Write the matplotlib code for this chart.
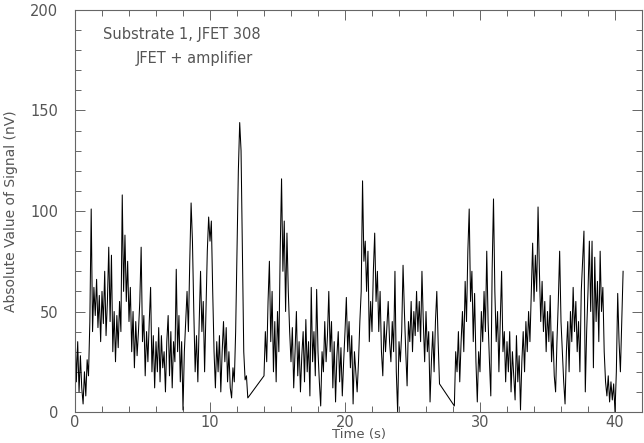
import numpy as np
import matplotlib
matplotlib.use("Agg")
import matplotlib.pyplot as plt

dt = 0.1
seg1_start = 0.0
seg1 = [42, 15, 35, 10, 28, 12, 4, 20, 8, 26,
        18, 45, 101, 40, 62, 48, 66, 42, 58, 35,
        60, 44, 70, 38, 55, 82, 45, 78, 30, 50,
        25, 48, 32, 55, 40, 108, 60, 88, 55, 75,
        45, 62, 30, 50, 22, 45, 28, 40, 55, 82,
        35, 48, 18, 40, 25, 45, 62, 20, 38, 12,
        35, 20, 42, 15, 38, 22, 30, 10, 35, 48,
        18, 40, 12, 35, 25, 71, 30, 48, 15, 35,
        1, 30, 45, 60, 40, 75, 104, 85, 50, 20,
        38, 15, 45, 70, 40, 55, 20, 50, 80, 97,
        85, 95, 60, 30, 12, 35, 20, 38, 10, 30,
        45, 25, 42, 15, 30, 12, 7, 22, 15, 40,
        80, 120, 144, 130, 81, 30, 16, 18, 7]
seg2_start = 14.0
seg2 = [18, 40, 25, 55, 75, 35, 60, 20, 45, 15,
        50, 30, 80, 116, 70, 95, 50, 89, 60, 40,
        25, 42, 12, 30, 50, 18, 35, 10, 28, 40,
        15, 46, 20, 35, 8, 62, 25, 40, 18, 61,
        30, 15, 3, 30, 20, 45, 25, 38, 60, 30,
        45, 12, 35, 5, 28, 40, 15, 32, 8, 25,
        40, 57, 30, 45, 22, 38, 4, 30, 20, 10,
        25, 45, 60, 115, 75, 85, 60, 80, 35, 55,
        40, 70, 89, 55, 70, 40, 60, 30, 18, 45,
        30, 42, 55, 35, 25, 45, 30, 70, 20, 0,
        35, 25, 40, 73, 50, 30, 13, 45, 35, 55,
        30, 50, 38, 60, 40, 55, 35, 70, 45, 25,
        50, 30, 40, 5, 25, 40, 20, 45, 60, 35,
        14]
seg3_start = 28.1
seg3 = [3, 30, 20, 40, 15, 35, 50, 30, 65,
        45, 80, 101, 55, 70, 35, 59, 25, 5, 30,
        20, 50, 35, 60, 40, 80, 45, 25, 8, 71,
        106, 60, 35, 50, 20, 45, 70, 30, 40, 15,
        35, 20, 40, 10, 30, 18, 6, 38, 15, 28,
        1, 25, 40, 20, 45, 30, 50, 35, 60, 84,
        55, 78, 60, 102, 70, 45, 65, 40, 55, 30,
        50, 35, 58, 25, 40, 18, 10, 35, 55, 80,
        45, 30, 15, 4, 30, 45, 20, 50, 35, 62,
        40, 55, 30, 45, 20, 60, 75, 90, 10, 40,
        60, 85, 50, 85, 22, 77, 45, 65, 35, 80,
        50, 62, 30, 15, 8, 18, 5, 15, 6, 14,
        0, 20, 59, 35, 20, 45, 70]

starts = [seg1_start, seg2_start, seg3_start]
segs = [seg1, seg2, seg3]
t = np.concatenate([s0 + dt * np.arange(len(v)) for s0, v in zip(starts, segs)])
y = np.concatenate([np.array(v, float) for v in segs])

title1 = "Substrate 1, JFET 308"
title2 = "JFET + amplifier"

fig = plt.figure(figsize=(6.44, 4.43), dpi=100)
ax = fig.add_axes([75/644, 1 - 412/443, (642-75)/644, (412-10)/443])
ax.plot(t, y, color='black', lw=0.75)
ax.set_xlim(0, 42)
ax.set_ylim(0, 200)
ax.set_xticks([0, 10, 20, 30, 40])
ax.set_yticks([0, 50, 100, 150, 200])
ax.set_xticks(np.arange(0, 42.1, 2), minor=True)
ax.set_yticks(np.arange(0, 201, 10), minor=True)
gray = '#666666'
tc = '#555555'
ax.tick_params(which='both', direction='in', top=True, right=True, colors=gray,
               labelsize=10.5, labelcolor=tc, width=0.7)
ax.tick_params(which='major', length=7)
ax.tick_params(which='minor', length=4)
ax.tick_params(axis='x', which='major', pad=2)
ax.tick_params(axis='y', which='major', pad=12)
for s in ax.spines.values():
    s.set_color(gray)
    s.set_linewidth(0.8)
ax.set_xlabel("Time (s)", color=tc, fontsize=9.5, labelpad=-1)
ax.set_ylabel("Absolute Value of Signal (nV)", color=tc, fontsize=10, labelpad=9)
ax.text(182/644, 1 - 35/443, title1, transform=fig.transFigure, ha='center', va='center',
        color=tc, fontsize=10.5)
ax.text(194/644, 1 - 59/443, title2, transform=fig.transFigure, ha='center', va='center',
        color=tc, fontsize=10.5)
fig.savefig("out.png", dpi=100)
